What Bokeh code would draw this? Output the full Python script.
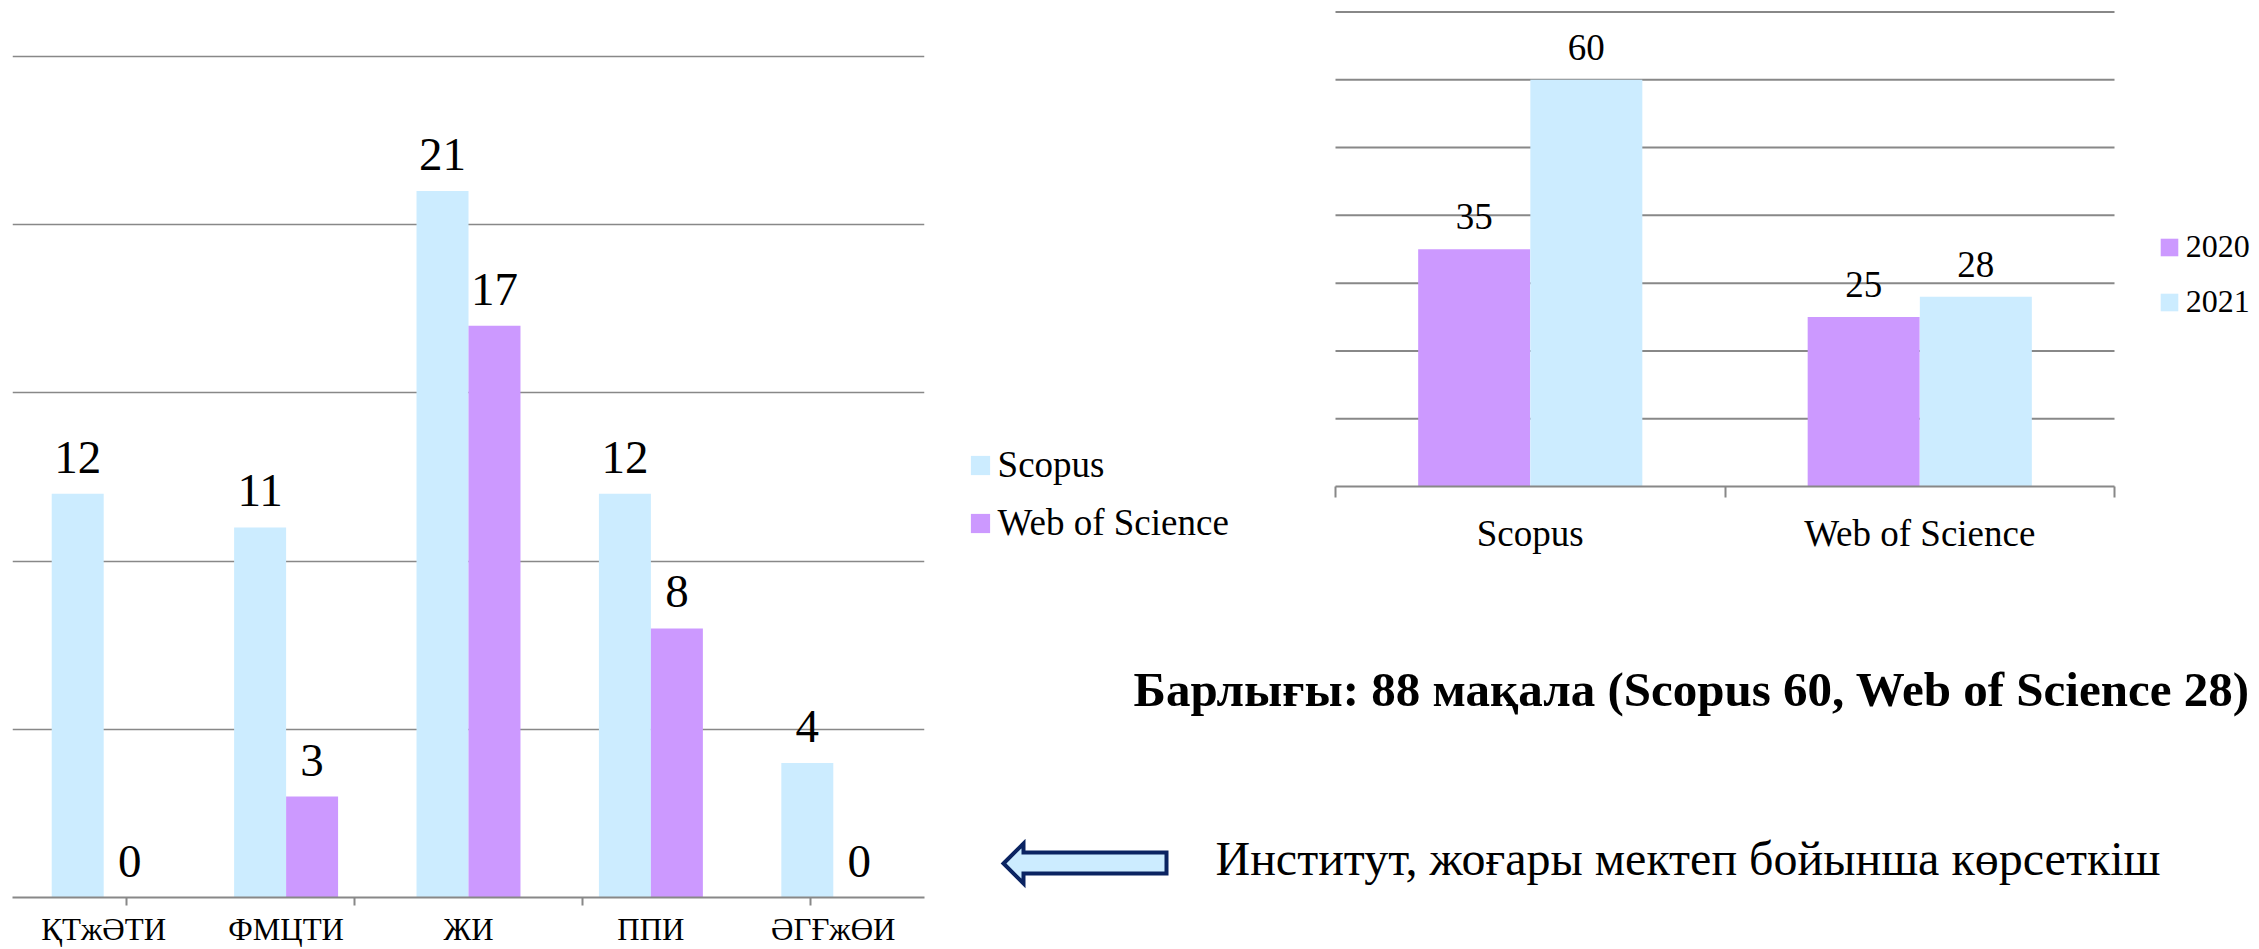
import numpy as np
from bokeh.plotting import figure
from bokeh.core.properties import value
from bokeh.models import (ColumnDataSource, FactorRange, Range1d, CategoricalAxis, LinearAxis,
                          FixedTicker, Grid, Legend, LegendItem, LabelSet,
                          CustomJSTickFormatter, CustomLabelingPolicy)
from bokeh.transform import dodge
from bokeh.layouts import row, column
from bokeh.embed import file_html
from bokeh.resources import INLINE

# ---------------- data ----------------
institutes = ["ҚТжӘТИ", "ФМЦТИ", "ЖИ", "ППИ", "ӘГҒжӨИ"]
scopus_by_inst = [12, 11, 21, 12, 4]
wos_by_inst = [0, 3, 17, 8, 0]
left_series = ["Scopus", "Web of Science"]
left_gridlines = [5, 10, 15, 20, 25]

databases = ["Scopus", "Web of Science"]
years = ["2020", "2021"]
counts_2020 = [35, 25]
counts_2021 = [60, 28]
right_gridlines = [10, 20, 30, 40, 50, 60, 70]

summary_text = "Барлығы: 88 мақала (Scopus 60, Web of  Science 28)"
note_text = "Институт, жоғары мектеп бойынша көрсеткіш"

# ---------------- style / geometry ----------------
BLUE = "#CCECFF"
PURPLE = "#CC99FF"
GRID = "#888888"
SERIF = "'Liberation Serif'"
W, H = 2259, 949
SPLIT = 960                      # left figure width

# right panel mapping (page pixels -> chart units)
CHART_LEFT, CAT_PX = 1335.0, 389.5
BASE_Y, UNIT_PX = 486.0, 474.5 / 70.0


def to_x(px):
    return (px - CHART_LEFT) / CAT_PX


def to_y(py):
    return (BASE_Y - py) / UNIT_PX


NO_LABELS = CustomLabelingPolicy(code="return new Set()")

# ---------------- left chart ----------------
pL = figure(width=SPLIT, height=H,
            x_range=FactorRange(*institutes), y_range=Range1d(0, 25.06),
            x_axis_location=None, y_axis_location=None,
            toolbar_location=None, output_backend="svg",
            min_border_left=12, min_border_right=36, min_border_top=54, min_border_bottom=47,
            outline_line_color=None, background_fill_color="white", border_fill_color="white")
pL.grid.visible = False
pL.add_layout(Grid(dimension=1, ticker=FixedTicker(ticks=left_gridlines),
                   grid_line_color=GRID, grid_line_width=1.5))

srcL = ColumnDataSource(dict(
    inst=institutes, scopus=scopus_by_inst, wos=wos_by_inst,
    scopus_txt=[str(v) for v in scopus_by_inst], wos_txt=[str(v) for v in wos_by_inst]))

rL_s = pL.vbar(x=dodge("inst", -0.1425, range=pL.x_range), top="scopus", width=0.285,
               source=srcL, fill_color=BLUE, line_color=None)
rL_w = pL.vbar(x=dodge("inst", 0.1425, range=pL.x_range), top="wos", width=0.285,
               source=srcL, fill_color=PURPLE, line_color=None)

for col, off in (("scopus", -0.1425), ("wos", 0.1425)):
    pL.add_layout(LabelSet(x=dodge("inst", off, range=pL.x_range), y=col, text=col + "_txt",
                           source=srcL, y_offset=21, text_align="center",
                           text_baseline="alphabetic", text_font=value(SERIF),
                           text_font_size="47px", text_color="black"))

# tick marks on the boundaries between categories
bnames = [f"b{i}" for i in range(len(institutes) + 1)]
pL.extra_x_ranges = {"bounds": FactorRange(*bnames, range_padding=-1, range_padding_units="absolute")}
pL.add_layout(CategoricalAxis(x_range_name="bounds", major_label_policy=NO_LABELS,
                              major_label_text_font_size="0px", major_label_standoff=0,
                              axis_line_color=GRID, axis_line_width=2,
                              major_tick_line_color=GRID, major_tick_line_width=2,
                              major_tick_in=0, major_tick_out=8), "below")
pL.add_layout(CategoricalAxis(axis_line_color=None, major_tick_line_color=None,
                              major_label_standoff=0, major_label_text_font=SERIF,
                              major_label_text_font_size="31px", major_label_text_color="black"),
              "below")

# ---------------- right panel (chart + legends + notes) ----------------
pR = figure(width=W - SPLIT, height=H,
            x_range=Range1d(to_x(SPLIT), to_x(W)), y_range=Range1d(to_y(H), to_y(0)),
            x_axis_location=None, y_axis_location=None,
            toolbar_location=None, output_backend="svg",
            min_border=0, outline_line_color=None,
            background_fill_color="white", border_fill_color="white")
pR.grid.visible = False

n_db = len(databases)
srcR = ColumnDataSource(dict(
    xc=np.arange(n_db) + 0.5, y2020=counts_2020, y2021=counts_2021,
    t2020=[str(v) for v in counts_2020], t2021=[str(v) for v in counts_2021]))

# horizontal gridlines over the chart area only
pR.segment(x0=0, x1=n_db, y0=right_gridlines, y1=right_gridlines,
           line_color=GRID, line_width=2, level="underlay")

rR_20 = pR.vbar(x=dodge("xc", -0.144), top="y2020", width=0.2875,
                source=srcR, fill_color=PURPLE, line_color=None)
rR_21 = pR.vbar(x=dodge("xc", 0.144), top="y2021", width=0.2875,
                source=srcR, fill_color=BLUE, line_color=None)

for col, txt, off in (("y2020", "t2020", -0.144), ("y2021", "t2021", 0.144)):
    pR.add_layout(LabelSet(x=dodge("xc", off), y=col, text=txt,
                           source=srcR, y_offset=20, text_align="center",
                           text_baseline="alphabetic", text_font=value(SERIF),
                           text_font_size="37px", text_color="black"))

# x axis at y = 0: boundary ticks + category labels
pR.add_layout(LinearAxis(fixed_location=0, bounds=(0, n_db),
                         ticker=FixedTicker(ticks=list(range(n_db + 1))),
                         major_label_policy=NO_LABELS,
                         major_label_text_font_size="0px", major_label_standoff=0,
                         axis_line_color=GRID, axis_line_width=2,
                         major_tick_line_color=GRID, major_tick_line_width=2,
                         major_tick_in=0, major_tick_out=11,
                         minor_tick_line_color=None), "below")
pR.add_layout(LinearAxis(fixed_location=0, bounds=(0, n_db),
                         ticker=FixedTicker(ticks=list(np.arange(n_db) + 0.5)),
                         formatter=CustomJSTickFormatter(args=dict(names=databases),
                                                         code="return names[Math.floor(tick)]"),
                         axis_line_color=None, major_tick_line_color=None,
                         minor_tick_line_color=None, major_tick_out=0, major_tick_in=0,
                         major_label_standoff=26, major_label_text_font=SERIF,
                         major_label_text_font_size="37px", major_label_text_color="black"),
              "below")

legR = Legend(items=[LegendItem(label=years[0], renderers=[rR_20]),
                     LegendItem(label=years[1], renderers=[rR_21])],
              location=(2157.8 - SPLIT, H - 320), orientation="vertical",
              glyph_width=22, glyph_height=22, spacing=18, padding=0, margin=0,
              label_standoff=6, label_text_font=SERIF, label_text_font_size="32px",
              label_text_color="black", border_line_color=None, background_fill_alpha=0)
pR.add_layout(legR)

# legend of the left chart (zero-height swatch renderers with the left bars' styling)
proxy_s = pR.vbar(x=[0.5], top=[0], bottom=[0], width=0.285, fill_color=BLUE, line_color=None)
proxy_w = pR.vbar(x=[0.5], top=[0], bottom=[0], width=0.285, fill_color=PURPLE, line_color=None)
legL = Legend(items=[LegendItem(label=left_series[0], renderers=[proxy_s]),
                     LegendItem(label=left_series[1], renderers=[proxy_w])],
              location=(967.6 - SPLIT, H - 544), orientation="vertical",
              glyph_width=24, glyph_height=24, spacing=15, padding=0, margin=0,
              label_standoff=6, label_text_font=SERIF, label_text_font_size="37px",
              label_text_color="black", border_line_color=None, background_fill_alpha=0)
pR.add_layout(legL)

# notes below the right chart
srcN1 = ColumnDataSource(dict(x=[to_x(1133)], y=[to_y(705)], t=[summary_text]))
srcN2 = ColumnDataSource(dict(x=[to_x(1215)], y=[to_y(874)], t=[note_text]))
pR.add_layout(LabelSet(x="x", y="y", text="t", source=srcN1, text_font=value(SERIF),
                       text_font_style="bold", text_font_size="49px",
                       text_baseline="alphabetic", text_align="left", text_color="black"))
pR.add_layout(LabelSet(x="x", y="y", text="t", source=srcN2, text_font=value(SERIF),
                       text_font_size="48px", text_baseline="alphabetic", text_align="left",
                       text_color="black"))

arrow_px = [(1003, 863), (1023, 843), (1023, 852), (1166, 852), (1166, 873), (1023, 873), (1023, 883)]
pR.patch([to_x(a) for a, _ in arrow_px], [to_y(b) for _, b in arrow_px],
         fill_color=BLUE, line_color="#0B2462", line_width=4, line_join="miter")

layout = row(pL, column(pR))
open("out.html", "w").write(file_html(layout, INLINE))
